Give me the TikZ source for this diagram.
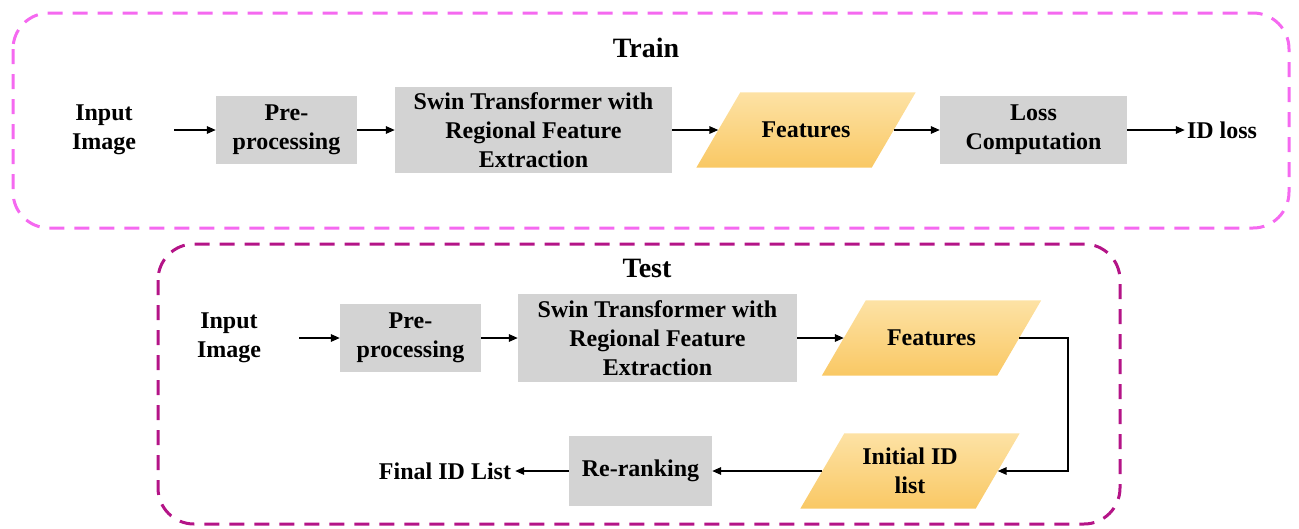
\documentclass[tikz,border=0pt]{standalone}
\usepackage{fontspec}
\setmainfont{Liberation Serif}
\usetikzlibrary{arrows.meta,calc,backgrounds}
\definecolor{trainc}{RGB}{245,105,240}
\definecolor{testc}{RGB}{180,20,135}
\definecolor{boxg}{RGB}{211,211,211}
\definecolor{ftop}{RGB}{253,226,165}
\definecolor{fbot}{RGB}{249,200,100}
\tikzset{
  txt/.style={font=\fontsize{24}{29}\selectfont\bfseries, align=center, inner sep=0pt},
  title/.style={font=\fontsize{28}{32}\selectfont\bfseries, inner sep=0pt},
  gbox/.style={txt, fill=boxg, draw=none},
  para/.style={txt, minimum width=175pt, minimum height=75pt},
  arr/.style={line width=1.6pt, -{Triangle[length=9pt,width=7.5pt]}},
  frame/.style={line width=3pt, dash pattern=on 15pt off 10pt, rounded corners=36pt},
  parafill/.style={top color=ftop, bottom color=fbot, draw=none},
}
\newcommand{\paraback}[1]{%
  \begin{scope}[on background layer]
  \shade[parafill] ($(#1.south west)+(-22,0)$) -- ($(#1.north west)+(22,0)$) --
    ($(#1.north east)+(22,0)$) -- ($(#1.south east)+(-22,0)$) -- cycle;
  \end{scope}}
\begin{document}
\begin{tikzpicture}[x=1pt,y=-1pt]
\useasboundingbox (0,0) rectangle (1299,528);
% frames
\draw[frame, draw=trainc] (13,13) rectangle (1289,228);
\draw[frame, draw=testc] (158,244) rectangle (1120,524);
% Train
\node[title] (ttitle) at (646,48) {Train};
\node[txt] (in1) at (104,130) {Input\\Image};
\node[gbox, minimum width=141pt, minimum height=68pt] (pre1) at (286.5,130) {Pre-\\processing};
\node[gbox, minimum width=277pt, minimum height=86pt] (swin1) at (533.5,130) {Swin Transformer with\\Regional Feature\\Extraction};
\node[para] (feat1) at (806,130) {Features};
\paraback{feat1}
\node[gbox, minimum width=187pt, minimum height=68pt] (loss1) at (1033.5,130) {Loss\\Computation};
\node[txt] (id1) at (1222,130) {ID loss};
\draw[arr, shorten <=38pt] (in1.east) -- (pre1.west);
\draw[arr] (pre1.east) -- (swin1.west);
\draw[arr] (swin1.east) -- (feat1.west);
\draw[arr] (feat1.east) -- (loss1.west);
\draw[arr, shorten >=2pt] (loss1.east) -- (id1.west);
% Test
\node[title] (ttitle2) at (647,268) {Test};
\node[txt] (in2) at (229,338) {Input\\Image};
\node[gbox, minimum width=141pt, minimum height=68pt] (pre2) at (410.5,338) {Pre-\\processing};
\node[gbox, minimum width=279pt, minimum height=88pt] (swin2) at (657.5,338) {Swin Transformer with\\Regional Feature\\Extraction};
\node[para] (feat2) at (931.5,338) {Features};
\paraback{feat2}
\node[para] (init) at (910,471) {Initial ID\\list};
\paraback{init}
\node[gbox, minimum width=143pt, minimum height=70pt] (rerank) at (640.5,471) {Re-ranking};
\node[txt] (final) at (445,471) {Final ID List};
\coordinate (bend) at (1068,338);
\draw[arr, shorten <=38pt] (in2.east) -- (pre2.west);
\draw[arr] (pre2.east) -- (swin2.west);
\draw[arr] (swin2.east) -- (feat2.west);
\draw[arr] (feat2.east) -- (bend) |- (init.east);
\draw[arr] (init.west) -- (rerank.east);
\draw[arr, shorten >=4pt] (rerank.west) -- (final.east);
\end{tikzpicture}
\end{document}
